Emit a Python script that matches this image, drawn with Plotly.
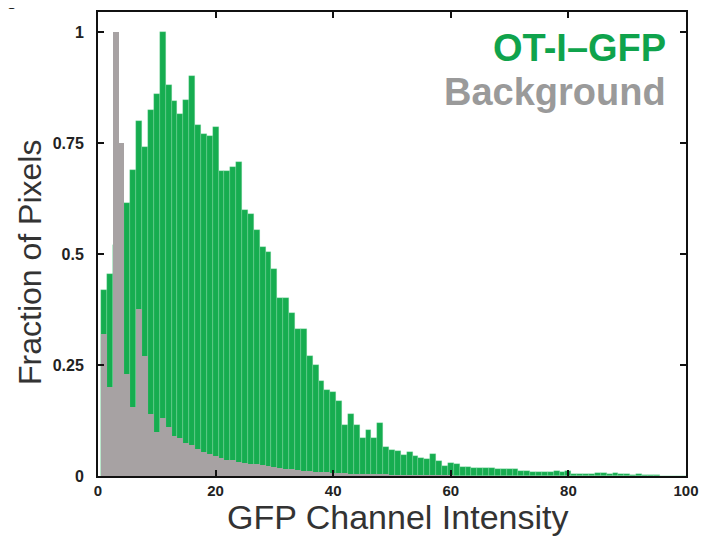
import plotly.graph_objects as go

# Histogram bins (channel intensity, bin centres)
intensity = list(range(1, 101))

# OT-I–GFP fraction of pixels (normalised to peak)
ot1_gfp = [
    0.42, 0.455, 0.52, 0.56, 0.615, 0.69, 0.80, 0.74, 0.825, 0.86,
    1.00, 0.88, 0.845, 0.815, 0.847, 0.90, 0.79, 0.77, 0.765, 0.785,
    0.686, 0.686, 0.697, 0.708, 0.60, 0.59, 0.555, 0.515, 0.505, 0.466,
    0.40, 0.40, 0.368, 0.33, 0.33, 0.27, 0.25, 0.215, 0.193, 0.19,
    0.17, 0.114, 0.14, 0.114, 0.085, 0.103, 0.085, 0.12, 0.065, 0.058,
    0.056, 0.047, 0.054, 0.045, 0.04, 0.038, 0.05, 0.034, 0.022, 0.029,
    0.028, 0.02, 0.021, 0.018, 0.019, 0.017, 0.018, 0.016, 0.016, 0.015,
    0.016, 0.012, 0.011, 0.009, 0.009, 0.008, 0.01, 0.011, 0.01, 0.011,
    0.005, 0.005, 0.004, 0.005, 0.006, 0.006, 0.005, 0.006, 0.004, 0.004,
    0.003, 0.004, 0.003, 0.002, 0.002, 0.001, 0.001, 0.001, 0.001, 0.001,
]

# Background fraction of pixels
background = [
    0.32, 0.20, 1.00, 0.75, 0.23, 0.155, 0.377, 0.27, 0.14, 0.10,
    0.13, 0.11, 0.09, 0.085, 0.075, 0.07, 0.06, 0.055, 0.05, 0.045,
    0.04, 0.037, 0.035, 0.032, 0.03, 0.028, 0.026, 0.024, 0.022, 0.02,
    0.018, 0.016, 0.015, 0.013, 0.012, 0.011, 0.01, 0.009, 0.008, 0.007,
    0.006, 0.006, 0.005, 0.005, 0.004, 0.004, 0.003, 0.003, 0.003, 0.002,
    0.002, 0.002, 0.002, 0.001, 0.001, 0.001, 0.001, 0.001, 0.001, 0.001,
    0, 0, 0, 0, 0, 0, 0, 0, 0, 0,
    0, 0, 0, 0, 0, 0, 0, 0, 0, 0,
    0, 0, 0, 0, 0, 0, 0, 0, 0, 0,
    0, 0, 0, 0, 0, 0, 0, 0, 0, 0,
]

x_ticks = [0, 20, 40, 60, 80, 100]
y_ticks = [0, 0.25, 0.5, 0.75, 1]
y_tick_text = ["0", "0.25", "0.5", "0.75", "1"]

GREEN = "#16ad50"
GRAY = "#a7a2a3"
FONT = "Liberation Sans, Arial, sans-serif"

fig = go.Figure()
fig.add_trace(go.Bar(
    x=intensity, y=ot1_gfp, width=1.0, name="OT-I–GFP",
    marker=dict(color=GREEN, line=dict(color="rgba(150,225,180,0.55)", width=0.5)),
))
fig.add_trace(go.Bar(
    x=intensity, y=background, width=1.0, name="Background",
    marker=dict(color=GRAY, line=dict(width=0)),
))

fig.update_layout(
    width=708, height=537,
    margin=dict(l=90, r=30, t=2, b=69),
    paper_bgcolor="white", plot_bgcolor="white",
    barmode="overlay", bargap=0, showlegend=False,
    font=dict(family=FONT, color="#222"),
)
fig.update_xaxes(
    range=[0, 100], tickvals=x_ticks, ticks="inside", ticklen=6, tickwidth=1.5,
    tickcolor="#111", showline=True, linecolor="#111", linewidth=2, mirror="ticks",
    showgrid=False, zeroline=False,
    tickfont=dict(family=FONT, size=15, color="#222", weight="bold"),
)
fig.update_yaxes(
    range=[0, 1.045], tickvals=y_ticks, ticktext=y_tick_text, ticks="inside", ticklen=6,
    tickwidth=1.5, tickcolor="#111", showline=True, linecolor="#111", linewidth=2,
    mirror="ticks", showgrid=False, zeroline=False, ticklabelstandoff=9,
    tickfont=dict(family=FONT, size=16, color="#222", weight="bold"),
)

fig.add_annotation(
    text="GFP Channel Intensity", xref="paper", yref="paper", x=0.51, y=0,
    yshift=-41, xanchor="center", yanchor="middle", showarrow=False,
    font=dict(family=FONT, size=34, color="#333"),
)
fig.add_annotation(
    text="Fraction of Pixels", xref="paper", yref="paper", x=0, xshift=-68,
    y=0.5, yshift=-19, textangle=-90, xanchor="center", yanchor="middle",
    showarrow=False, font=dict(family=FONT, size=32, color="#333"),
)
fig.add_annotation(
    text="<b>OT-I–GFP</b>", xref="paper", yref="paper", x=0.97, y=1, yshift=-36,
    xanchor="right", yanchor="middle", showarrow=False,
    font=dict(family=FONT, size=38, color="#0fa34c"),
)
fig.add_annotation(
    text="<b>Background</b>", xref="paper", yref="paper", x=0.97, y=1, yshift=-80,
    xanchor="right", yanchor="middle", showarrow=False,
    font=dict(family=FONT, size=38, color="#9a9a9a"),
)
fig.add_annotation(
    text="<b>b</b>", xref="paper", yref="paper", x=0, xshift=-98, y=1, yshift=12,
    xanchor="left", yanchor="middle", showarrow=False,
    font=dict(family=FONT, size=26, color="#222"),
)

fig.write_html("out.html")
